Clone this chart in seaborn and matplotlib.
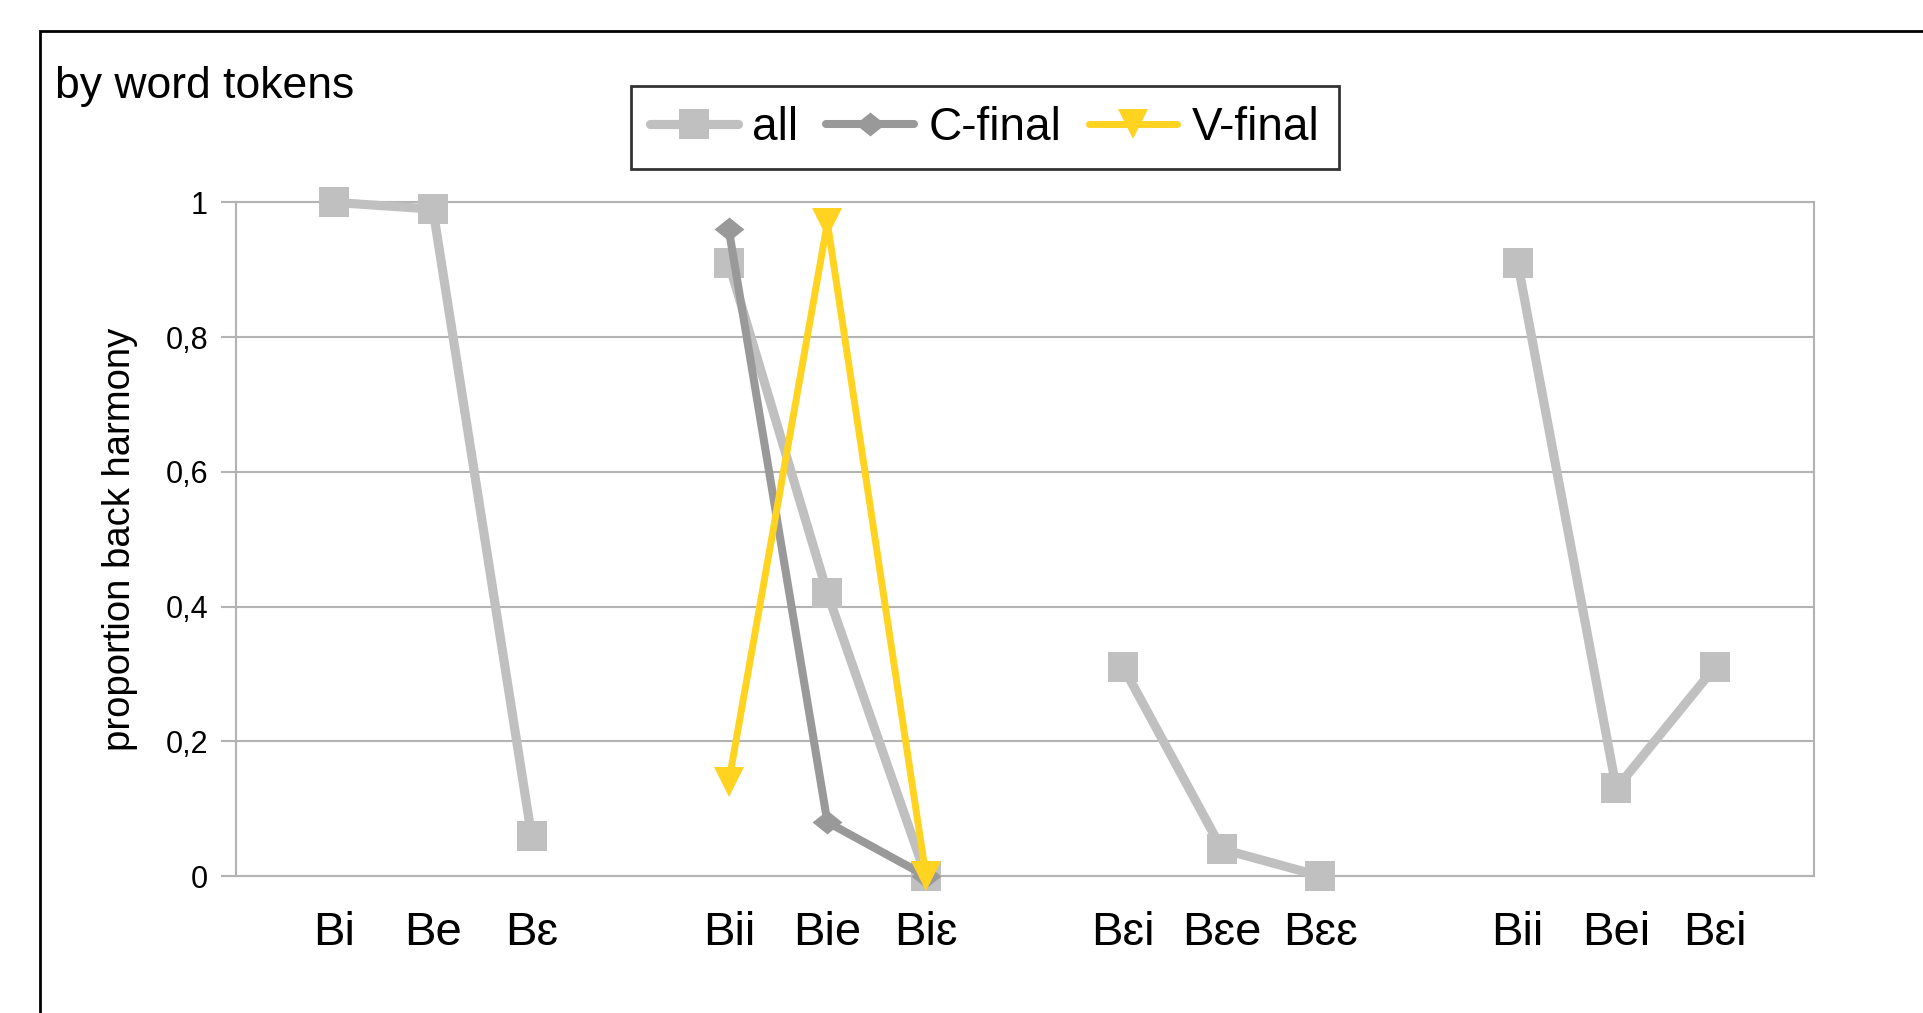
import numpy as np
import pandas as pd
import matplotlib
matplotlib.use("Agg")
import matplotlib.pyplot as plt
from matplotlib.lines import Line2D
from matplotlib.patches import Rectangle
import seaborn as sns

# categories (three per group, four groups)
groups = [["Bi", "Be", "Bɛ"],
          ["Bii", "Bie", "Biɛ"],
          ["Bɛi", "Bɛe", "Bɛɛ"],
          ["Bii", "Bei", "Bɛi"]]
group_pos = [[1, 2, 3], [5, 6, 7], [9, 10, 11], [13, 14, 15]]

# proportion back harmony
all_vals = [[1.0, 0.99, 0.06],
            [0.91, 0.42, 0.0],
            [0.31, 0.04, 0.0],
            [0.91, 0.13, 0.31]]
cfinal_vals = [0.96, 0.08, 0.0]   # group 2 only
vfinal_vals = [0.14, 0.97, 0.0]   # group 2 only

c_all = "#c0c0c0"
c_cfin = "#999999"
c_vfin = "#ffd320"
diamond = [(-1, 0), (0, 0.8), (1, 0), (0, -0.8), (-1, 0)]
lw_all, lw_c, lw_v = 6.6, 5.8, 5.0

sns.set_style("white")
plt.rcParams["font.family"] = ["Liberation Sans", "DejaVu Sans"]
plt.rcParams["text.color"] = "black"
plt.rcParams["axes.labelcolor"] = "black"
plt.rcParams["xtick.labelcolor"] = "black"
plt.rcParams["ytick.labelcolor"] = "black"

fig = plt.figure(figsize=(19.24, 10.13), dpi=100)
ax = fig.add_axes([0.1225, 0.1352, 0.8201, 0.665])

# series "all", one line per group
for pos, vals in zip(group_pos, all_vals):
    df = pd.DataFrame({"x": pos, "y": vals})
    sns.lineplot(data=df, x="x", y="y", ax=ax, color=c_all, linewidth=lw_all,
                 marker="s", markersize=21.5, markeredgewidth=0, zorder=3,
                 clip_on=False)

df_c = pd.DataFrame({"x": group_pos[1], "y": cfinal_vals})
sns.lineplot(data=df_c, x="x", y="y", ax=ax, color=c_cfin, linewidth=lw_c,
             marker=diamond, markersize=21.5, markeredgewidth=0, zorder=4,
             clip_on=False)

df_v = pd.DataFrame({"x": group_pos[1], "y": vfinal_vals})
sns.lineplot(data=df_v, x="x", y="y", ax=ax, color=c_vfin, linewidth=lw_v,
             marker="v", markersize=21.5, markeredgewidth=0, zorder=5,
             clip_on=False)

ax.set_xlim(0, 16)
ax.set_ylim(0, 1)
ax.set_yticks([0, 0.2, 0.4, 0.6, 0.8, 1.0])
ax.set_yticklabels(["0", "0,2", "0,4", "0,6", "0,8", "1"], fontsize=22)
ticks = [p for g in group_pos for p in g]
labels = [l for g in groups for l in g]
ax.set_xticks(ticks)
ax.set_xticklabels(labels, fontsize=34)
ax.tick_params(axis="x", length=0, pad=25, labelcolor="black")
ax.tick_params(axis="y", length=11, width=1.5, color="#b3b3b3", pad=9, left=True,
               labelcolor="black")
ax.grid(axis="y", color="#b3b3b3", linewidth=1.5)
for s in ax.spines.values():
    s.set_color("#b3b3b3")
    s.set_linewidth(1.5)
ax.set_xlabel("")
ax.set_ylabel("proportion back harmony", fontsize=27.5, color="black")
ax.yaxis.set_label_coords(-0.062, 0.5)

fig.text(0.0286, 0.903, "by word tokens", fontsize=32, ha="left", va="baseline",
         color="black")

handles = [
    Line2D([], [], color=c_all, lw=lw_all, marker="s", ms=21.5, mew=0),
    Line2D([], [], color=c_cfin, lw=lw_c, marker=diamond, ms=21.5, mew=0),
    Line2D([], [], color=c_vfin, lw=lw_v, marker="v", ms=21.5, mew=0),
]
leg = fig.legend(handles, ["all", "C-final", "V-final"], loc="center",
                 bbox_to_anchor=(0.5118, 0.874), ncol=3, fontsize=33,
                 frameon=True, fancybox=False, edgecolor="black",
                 handlelength=1.92, handletextpad=0.32, columnspacing=0.6,
                 borderpad=0.42, borderaxespad=0, labelcolor="black")
leg.get_frame().set_linewidth(2)

# outer frame (runs off the right and bottom edges)
fig.patches.append(Rectangle((0.021, -0.1), 1.1, 1.1 - 0.0306, transform=fig.transFigure,
                             fill=False, edgecolor="black", linewidth=2))

fig.savefig("out.png", dpi=100)
